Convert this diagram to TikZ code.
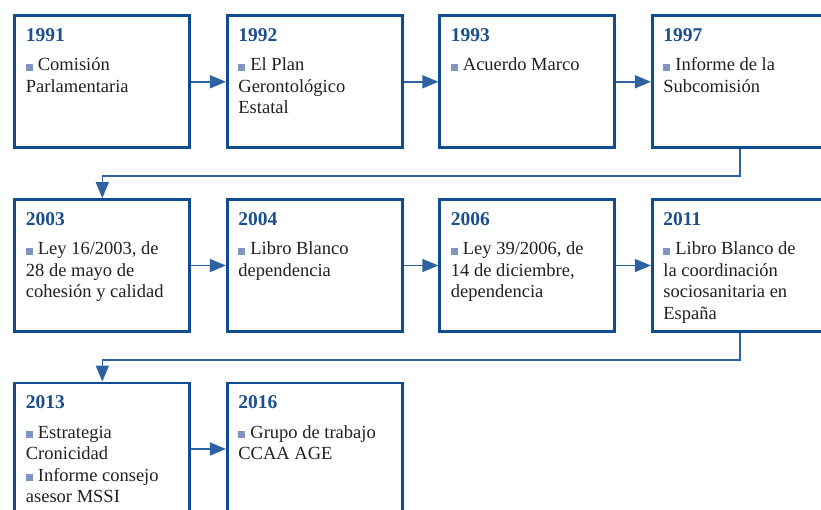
\documentclass[tikz,border=0pt]{standalone}
\usepackage{fontspec}
\setmainfont{Liberation Serif}
\usetikzlibrary{arrows.meta}
\definecolor{boxblue}{HTML}{0F4C90}
\definecolor{linkblue}{HTML}{2C62A2}
\definecolor{yearblue}{HTML}{1B4F8F}
\definecolor{bulletgrey}{HTML}{8193C2}
\definecolor{bodytext}{HTML}{231F20}
\newcommand{\itm}{\textcolor{bulletgrey}{\rule{7pt}{7pt}}\hspace{5pt}}
\newcommand{\yr}[1]{{\color{yearblue}\fontsize{19.5}{21.5}\selectfont\bfseries #1}\\[8pt]}
\begin{document}
\begin{tikzpicture}[x=1pt,y=-1pt,
  yearbox/.style={draw=boxblue, line width=2.8pt, minimum width=175pt, minimum height=132pt, inner sep=0pt, anchor=north west, fill=white},
  boxtext/.style={anchor=north west, inner sep=0pt, align=left, text=bodytext, font=\fontsize{18.5}{21.5}\selectfont},
  link/.style={draw=linkblue, line width=1.5pt, -{Triangle[length=16pt,width=13pt]}}]
\useasboundingbox (0,0) rectangle (821,510);
\clip (0,0) rectangle (821,510);
% boxes
\node[yearbox] (b1) at (13.4,14.4) {};
\node[yearbox] (b2) at (225.9,14.4) {};
\node[yearbox] (b3) at (438.4,14.4) {};
\node[yearbox] (b4) at (650.9,14.4) {};
\node[yearbox] (b5) at (13.4,198.1) {};
\node[yearbox] (b6) at (225.9,198.1) {};
\node[yearbox] (b7) at (438.4,198.1) {};
\node[yearbox] (b8) at (650.9,198.1) {};
\node[yearbox] (b9) at (13.4,381.6) {};
\node[yearbox] (b10) at (225.9,381.6) {};
% texts
\node[boxtext] (t1) at ([xshift=12.3pt,yshift=-13.8pt]b1.north west) {\yr{1991}\itm Comisión\\Parlamentaria};
\node[boxtext] (t2) at ([xshift=12.3pt,yshift=-13.8pt]b2.north west) {\yr{1992}\itm El Plan\\Gerontológico\\Estatal};
\node[boxtext] (t3) at ([xshift=12.3pt,yshift=-13.8pt]b3.north west) {\yr{1993}\itm Acuerdo Marco};
\node[boxtext] (t4) at ([xshift=12.3pt,yshift=-13.8pt]b4.north west) {\yr{1997}\itm Informe de la\\Subcomisión};
\node[boxtext] (t5) at ([xshift=12.3pt,yshift=-13.8pt]b5.north west) {\yr{2003}\itm Ley 16/2003, de\\28 de mayo de\\cohesión y calidad};
\node[boxtext] (t6) at ([xshift=12.3pt,yshift=-13.8pt]b6.north west) {\yr{2004}\itm Libro Blanco\\dependencia};
\node[boxtext] (t7) at ([xshift=12.3pt,yshift=-13.8pt]b7.north west) {\yr{2006}\itm Ley 39/2006, de\\14 de diciembre,\\dependencia};
\node[boxtext] (t8) at ([xshift=12.3pt,yshift=-13.8pt]b8.north west) {\yr{2011}\itm Libro Blanco de\\la coordinación\\sociosanitaria en\\España};
\node[boxtext] (t9) at ([xshift=12.3pt,yshift=-13.8pt]b9.north west) {\yr{2013}\itm Estrategia\\Cronicidad\\\itm Informe consejo\\asesor MSSI};
\node[boxtext] (t10) at ([xshift=12.3pt,yshift=-13.8pt]b10.north west) {\yr{2016}\itm Grupo de trabajo\\CCAA AGE};
% connectors
\draw[link] (b1) -- (b2);
\draw[link] (b2) -- (b3);
\draw[link] (b3) -- (b4);
\draw[link] (b5) -- (b6);
\draw[link] (b6) -- (b7);
\draw[link] (b7) -- (b8);
\draw[link] (b9) -- (b10);
\draw[link] (b4.south) -- ++(0,27) -| (b5.north);
\draw[link] (b8.south) -- ++(0,27) -| (b9.north);
\end{tikzpicture}
\end{document}
